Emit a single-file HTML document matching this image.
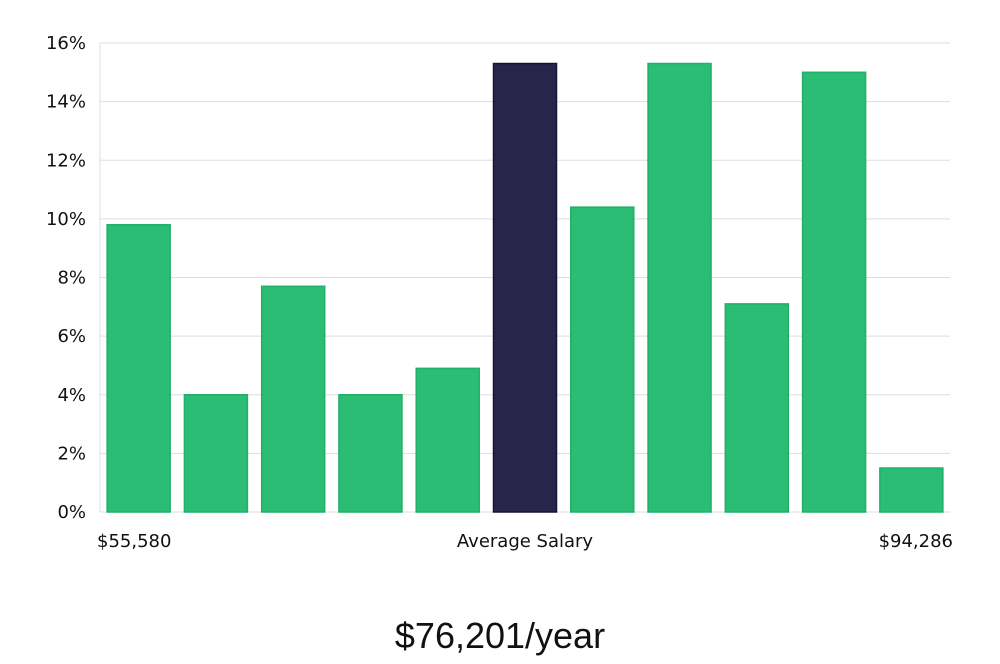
<!DOCTYPE html>
<html><head><meta charset="utf-8"><style>
body{margin:0;background:#fff;width:1000px;height:660px;overflow:hidden;font-family:"DejaVu Sans","Liberation Sans",sans-serif;}
</style></head><body>
<svg id="chart" width="1000" height="660" xmlns="http://www.w3.org/2000/svg">
<g id="grid"></g>
<g id="bars"></g>
<g id="yticks"></g>
<text x="97" y="547" font-size="18" fill="#111">$55,580</text>
<text x="525" y="547" font-size="18" fill="#111" text-anchor="middle">Average Salary</text>
<text x="953" y="547" font-size="18" fill="#111" text-anchor="end">$94,286</text>
<text x="500" y="648" font-size="36" fill="#111" text-anchor="middle" font-family="Liberation Sans, sans-serif">$76,201/year</text>
</svg>
<script>
const categories=["b1","b2","b3","b4","b5","b6","b7","b8","b9","b10","b11"];
const values=[9.8,4.0,7.7,4.0,4.9,15.3,10.4,15.3,7.1,15.0,1.5];
const highlightIndex=5;
const yTicks=[0,2,4,6,8,10,12,14,16];
const NS="http://www.w3.org/2000/svg";
const x0=100,x1=950,y0=512,y1=43,yMax=16;
const y=v=>y0-(v/yMax)*(y0-y1);
const band=(x1-x0)/categories.length,bw=63;
const grid=document.getElementById('grid'),ticks=document.getElementById('yticks'),bars=document.getElementById('bars');
yTicks.forEach(t=>{
 const l=document.createElementNS(NS,'line');
 
 
 l.setAttribute('x1',x0);l.setAttribute('x2',x1);l.setAttribute('y1',y(t));l.setAttribute('y2',y(t));
 l.setAttribute('stroke','#dddddd');l.setAttribute('stroke-width','1');grid.appendChild(l);
 const tx=document.createElementNS(NS,'text');
 
 
 tx.setAttribute('x',86);tx.setAttribute('y',y(t)+6);tx.setAttribute('text-anchor','end');
 tx.setAttribute('font-size','18');tx.setAttribute('fill','#111');tx.textContent=t+'%';ticks.appendChild(tx);
});
const ax=document.createElementNS(NS,'line');


ax.setAttribute('x1',x0);ax.setAttribute('x2',x0);ax.setAttribute('y1',y1);ax.setAttribute('y2',y0);
ax.setAttribute('stroke','#dddddd');grid.appendChild(ax);
values.forEach((v,i)=>{
 const r=document.createElementNS(NS,'rect');
 
 
 const cx=x0+band*(i+0.5);
 r.setAttribute('x',cx-bw/2);r.setAttribute('width',bw);r.setAttribute('y',y(v));r.setAttribute('height',y0-y(v));
 const hi=i===highlightIndex;
 r.setAttribute('fill',hi?'#29244a':'#2bbd74');r.setAttribute('stroke',hi?'#17133a':'#1fb069');r.setAttribute('stroke-width','1.5');
 bars.appendChild(r);
});
</script>
</body></html>
